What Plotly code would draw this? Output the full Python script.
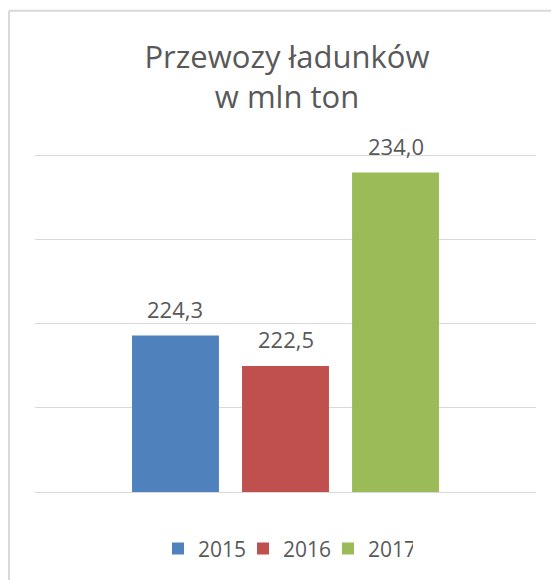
import plotly.graph_objects as go

# dane z wykresu
years = ['2015', '2016', '2017']
values = [224.3, 222.5, 234.0]
colors = ['#4f81bd', '#c0504d', '#9bbb59']

# strona ma domyslny margines body 8px, wiec figura jest o 8px mniejsza
W, H = 551, 572
plot_left, plot_right = 27, 528
plot_top, plot_bottom = 145.8, 485

fig = go.Figure()
for i, (year, val, col) in enumerate(zip(years, values, colors)):
    fig.add_trace(go.Bar(
        x=[year], y=[val], name=year,
        marker=dict(color=col, line=dict(width=0)),
        width=0.79,
    ))
    fig.add_annotation(
        x=i, y=val, text=f"{val:.1f}".replace('.', ','),
        showarrow=False, yanchor='bottom', yshift=10,
        font=dict(family='Open Sans', size=22, color='#595959'),
    )

# ramka wykresu (tylko gora i lewa strona widoczne)
pw = plot_right - plot_left
ph = plot_bottom - plot_top
bx = (1 - plot_left) / pw
by = (plot_bottom - 2) / ph
fig.add_shape(type='line', xref='paper', yref='paper', x0=bx, x1=1.2, y0=by, y1=by,
              line=dict(color='#d9d9d9', width=2))
fig.add_shape(type='line', xref='paper', yref='paper', x0=bx, x1=bx, y0=by, y1=-0.4,
              line=dict(color='#d9d9d9', width=2))

fig.update_layout(
    width=W, height=H,
    margin=dict(l=plot_left, r=W - plot_right, t=plot_top, b=H - plot_bottom, pad=0),
    paper_bgcolor='white', plot_bgcolor='white',
    barmode='overlay',
    title=dict(
        text='Przewozy ładunków<br>w mln ton',
        x=(287 - 8) / W, xref='container', xanchor='center',
        y=1 - 60 / H, yref='container', yanchor='middle',
        font=dict(family='Open Sans', size=31, color='#595959'),
    ),
    xaxis=dict(
        type='category', range=[-1.277, 3.277],
        showticklabels=False, showgrid=False, zeroline=False,
        showline=True, linecolor='#d9d9d9', linewidth=1, fixedrange=True,
    ),
    yaxis=dict(
        range=[215, 235.1], dtick=5, tick0=215,
        showticklabels=False, showgrid=True, gridcolor='#d9d9d9', gridwidth=1,
        zeroline=False, showline=False, fixedrange=True,
    ),
    legend=dict(
        orientation='h', x=0.5, xanchor='center', y=-56 / ph, yanchor='middle',
        font=dict(family='Open Sans', size=21, color='#595959'),
        bgcolor='rgba(0,0,0,0)', entrywidth=40,
    ),
    showlegend=True,
)

fig.write_html("out.html")
